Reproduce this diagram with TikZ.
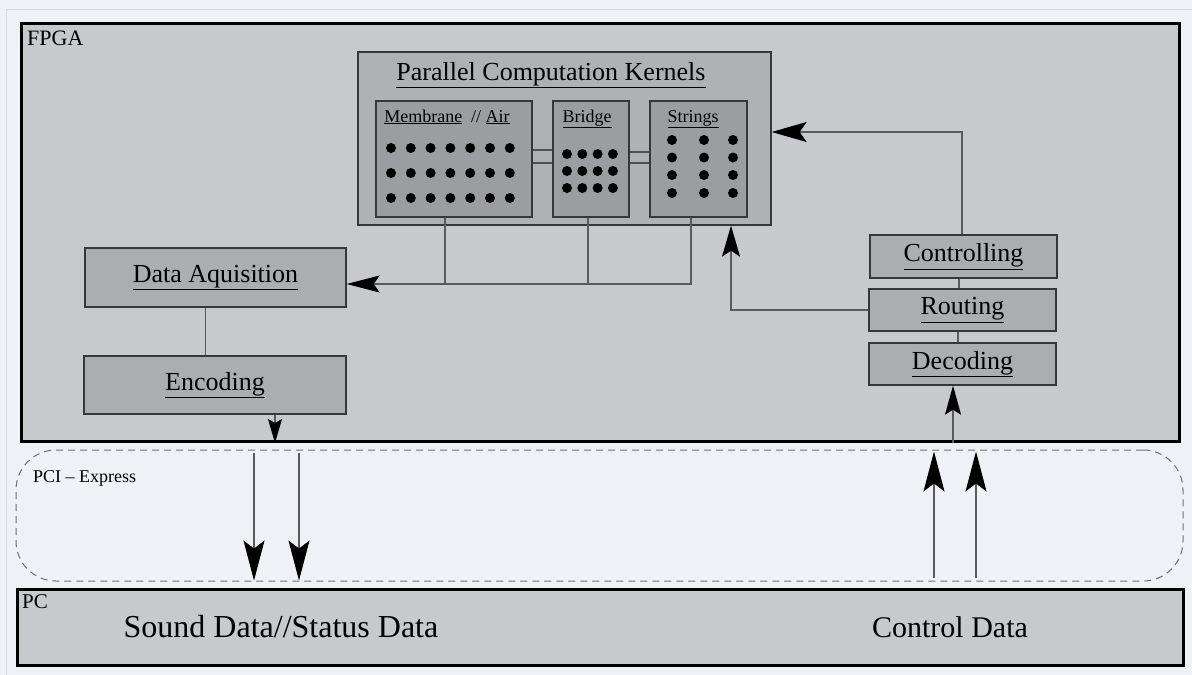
\documentclass[tikz,border=0pt]{standalone}
\usepackage{fontspec}
\setmainfont{LiberationSerif}[Extension=.ttf, UprightFont=*-Regular, BoldFont=*-Bold, ItalicFont=*-Italic, BoldItalicFont=*-BoldItalic]
\usetikzlibrary{arrows.meta}

\definecolor{pagebg}{RGB}{240,241,246}
\definecolor{framegray}{RGB}{215,216,220}
\definecolor{fpgafill}{RGB}{200,201,205}
\definecolor{kernfill}{RGB}{176,177,181}
\definecolor{cellfill}{RGB}{156,157,161}
\definecolor{blockfill}{RGB}{172,173,177}
\definecolor{wiregray}{RGB}{90,90,92}
\definecolor{edgegray}{RGB}{55,55,58}
\definecolor{pipegray}{RGB}{80,80,84}
\definecolor{dashgray}{RGB}{110,110,114}

\tikzset{
  fs/.style={font=\rmfamily\fontsize{#1}{#1}\selectfont},
  hostbox/.style={draw=black, fill=fpgafill, inner sep=0pt},
  block/.style={draw=edgegray, line width=1.3pt, fill=blockfill, inner sep=0pt,
    minimum width=187pt, minimum height=42pt, fs=26},
  kernelcell/.style={draw=edgegray, line width=1.3pt, fill=cellfill, inner sep=0pt,
    minimum height=116pt},
  celltitle/.style={inner sep=0pt, fs=18},
  wire/.style={draw=wiregray, line width=1.3pt},
  dot/.style={fill=black},
  pipe/.style={draw=pipegray, line width=2.4pt},
}

\newcommand{\ul}[1]{\underline{#1}}

\begin{document}
\begin{tikzpicture}[x=1pt, y=-1pt]
\useasboundingbox (0,0) rectangle (1192,675);
\fill[pagebg] (0,0) rectangle (1192,675);
\draw[framegray, line width=1pt] (6,675) -- (6,9) -- (1192,9);

% PCI Express bus region
\node[draw=dashgray, dashed, dash pattern=on 7pt off 5pt, line width=1pt,
      rounded corners=40pt, minimum width=1167pt, minimum height=131pt, inner sep=0pt]
      (pci) at (599.5,515.5) {};
\node[anchor=base west, inner sep=0pt, fs=18] (pcilabel) at (33,482) {PCI \textendash{} Express};

% FPGA and PC
\node[hostbox, line width=3pt, minimum width=1158pt, minimum height=418pt]
      (fpga) at (600.5,232.5) {};
\node[anchor=base west, inner sep=0pt, fs=22] (fpgalabel) at (27,45) {FPGA};

\node[hostbox, line width=3.6pt, minimum width=1166pt, minimum height=76pt]
      (pc) at (600.5,627.5) {};
\node[anchor=base west, inner sep=0pt, fs=21] (pclabel) at (22,608) {PC};
\node[inner sep=0pt, fs=32, anchor=base] (sound) at (281,637) {Sound Data//Status Data};
\node[inner sep=0pt, fs=30, anchor=base] (control) at (950,637) {Control Data};

% Kernels
\node[draw=edgegray, line width=1.3pt, fill=kernfill, minimum width=413pt,
      minimum height=173pt, inner sep=0pt] (kernels) at (564.5,138.5) {};
\node[inner sep=0pt, fs=26, anchor=base] (kerneltitle) at (551,80) {\ul{Parallel Computation Kernels}};

\node[kernelcell, minimum width=156pt] (membrane) at (454,159) {};
\node[kernelcell, minimum width=76pt] (bridge) at (591,159) {};
\node[kernelcell, minimum width=97pt] (strings) at (698.5,159) {};

\node[celltitle, anchor=base] (memtitle) at (447,122) {\ul{Membrane}\ \ // \ul{Air}};
\node[celltitle, anchor=base] (bridgetitle) at (587,122) {\ul{Bridge}};
\node[celltitle, anchor=base] (stringstitle) at (693,122) {\ul{Strings}};

% grid points
\foreach \r in {148,173,198}
  \foreach \c in {0,...,6}
    \fill[dot] (391+19.8*\c,\r) circle (5pt);
\foreach \r in {154,171,188}
  \foreach \c in {0,...,3}
    \fill[dot] (567+15.3*\c,\r) circle (5pt);
\foreach \r in {140,157.5,175,193}
  \foreach \c in {672,704,733}
    \fill[dot] (\c,\r) circle (5pt);

% couplings between kernels
\draw[pipe] ([yshift=9pt]membrane.east) -- ([yshift=9pt]membrane.east -| bridge.west);
\draw[pipe] ([yshift=-4pt]membrane.east) -- ([yshift=-4pt]membrane.east -| bridge.west);
\draw[pipe] ([yshift=7pt]bridge.east) -- ([yshift=7pt]bridge.east -| strings.west);
\draw[pipe] ([yshift=-4pt]bridge.east) -- ([yshift=-4pt]bridge.east -| strings.west);

% acquisition side
\node[block, minimum width=261pt, minimum height=59pt] (dataacq) at (215.5,277.5) {\ul{Data Aquisition}};
\node[block, minimum width=262pt, minimum height=58pt] (encoding) at (215,385) {\ul{Encoding}};

% control side
\node[block, minimum height=43pt] (controlling) at (963.5,256.5) {\ul{Controlling}};
\node[block] (routing) at (962.5,310) {\ul{Routing}};
\node[block] (decoding) at (962.5,364) {\ul{Decoding}};

% wiring
\coordinate (busline) at (0,284);
\draw[wire, -{Stealth[length=33pt, width=17pt, inset=6pt, color=black]}]
  ([xshift=-7.5pt]strings.south) |- ([yshift=-6.5pt]dataacq.east);
\draw[wire] ([xshift=-9pt]membrane.south) -- ([xshift=-9pt]membrane.south |- busline);
\draw[wire] ([xshift=-3pt]bridge.south) -- ([xshift=-3pt]bridge.south |- busline);

\draw[wire] ([xshift=-10pt]dataacq.south) -- ([xshift=-10pt]dataacq.south |- encoding.north);
\draw[wire, -{Stealth[length=24pt, width=14pt, inset=4pt, color=black]}]
  ([xshift=60pt]encoding.south) -- ([xshift=60pt]encoding.south |- fpga.south);

\draw[wire, -{Stealth[length=35pt, width=20pt, inset=7pt, color=black]}]
  ([xshift=-1.5pt]controlling.north) |- ([yshift=6.5pt]kernels.east);
\draw[wire, -{Stealth[length=31pt, width=18pt, inset=6pt, color=black]}]
  (routing.west) -| ([xshift=166.5pt]kernels.south);
\draw[wire] ([xshift=-4.5pt]controlling.south) -- ([xshift=-4.5pt]controlling.south |- routing.north);
\draw[wire] ([xshift=-4.5pt]routing.south) -- ([xshift=-4.5pt]routing.south |- decoding.north);
\draw[wire, -{Stealth[length=29pt, width=16pt, inset=5pt, color=black]}]
  ([xshift=-9.5pt]decoding.south |- fpga.south) -- ([xshift=-9.5pt]decoding.south);

% PCI Express transfers
\coordinate (down1) at (254,0);
\coordinate (down2) at (299,0);
\coordinate (up1) at (934,0);
\coordinate (up2) at (976,0);
\tikzset{bigtip/.style={-{Stealth[length=40pt, width=21pt, inset=8pt, color=black]}}}
\draw[wire, bigtip] ([yshift=-3pt]down1 |- pci.north) -- ([yshift=1pt]down1 |- pci.south);
\draw[wire, bigtip] ([yshift=-3pt]down2 |- pci.north) -- ([yshift=1pt]down2 |- pci.south);
\draw[wire, bigtip] ([yshift=4pt]up1 |- pci.south) -- ([yshift=-2pt]up1 |- pci.north);
\draw[wire, bigtip] ([yshift=4pt]up2 |- pci.south) -- ([yshift=-2pt]up2 |- pci.north);
\end{tikzpicture}
\end{document}
